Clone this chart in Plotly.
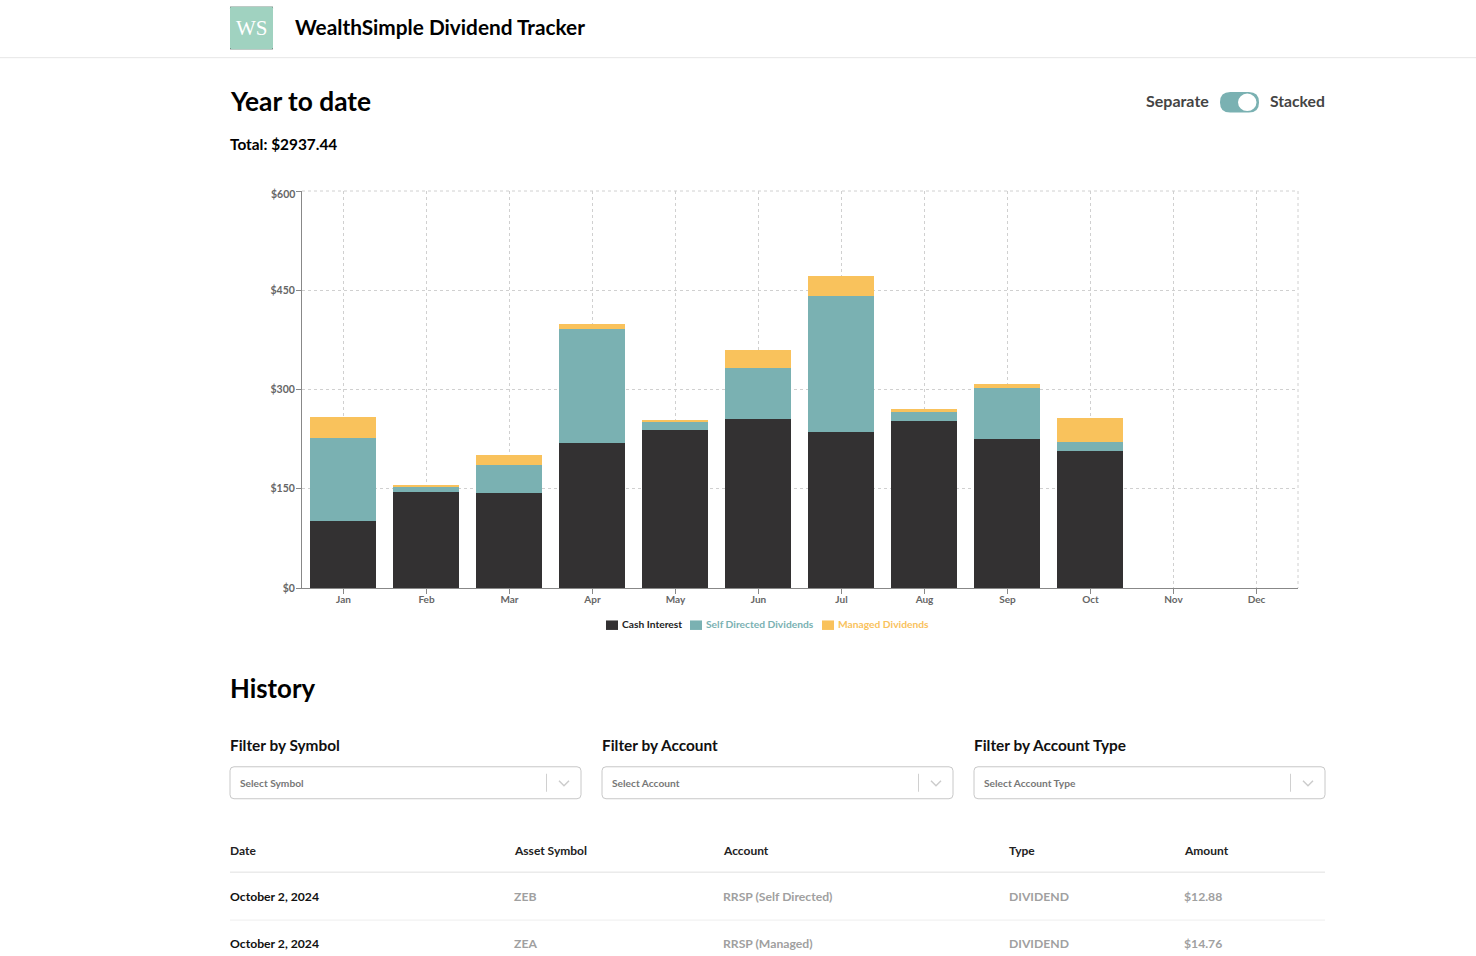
import plotly.graph_objects as go

months = ["Jan", "Feb", "Mar", "Apr", "May", "Jun", "Jul", "Aug", "Sep", "Oct", "Nov", "Dec"]
cash_interest = [101, 145, 143, 219, 238.5, 255, 235.5, 252, 225, 207, 0, 0]
self_directed = [125, 9, 43, 172, 12.5, 77, 205.5, 15, 77, 13, 0, 0]
managed = [32, 2, 15, 8, 2.5, 28, 30, 3, 7, 37, 0, 0]
series_names = ["Cash Interest", "Self Directed Dividends", "Managed Dividends"]
y_ticks = [0, 150, 300, 450, 600]
y_labels = ["$0", "$150", "$300", "$450", "$600"]

table_headers = ["Date", "Asset Symbol", "Account", "Type", "Amount"]
table_rows = [
    ["October 2, 2024", "ZEB", "RRSP (Self Directed)", "DIVIDEND", "$12.88"],
    ["October 2, 2024", "ZEA", "RRSP (Managed)", "DIVIDEND", "$14.76"],
]
filter_labels = ["Filter by Symbol", "Filter by Account", "Filter by Account Type"]
filter_placeholders = ["Select Symbol", "Select Account", "Select Account Type"]

DARK, TEAL, YELLOW = "#333132", "#7ab1b2", "#f9c25c"
FONT = "Lato"
W, H = 1476, 956
L, R, T, B = 302, 1298, 190.5, 588


def px(x):
    return (x - L) / (R - L)


def py(y):
    return (B - y) / (B - T)


fig = go.Figure()
for name, vals, col in zip(series_names, [cash_interest, self_directed, managed], [DARK, TEAL, YELLOW]):
    fig.add_trace(go.Bar(x=months, y=vals, name=name, width=66 / 83, offset=-34 / 83,
                         marker=dict(color=col, line=dict(width=0)), showlegend=False))

annotations = []
shapes = []


def text(x, y, s, size, color="#000", weight=400, anchor="left", family=FONT):
    annotations.append(dict(
        x=px(x), y=py(y), xref="paper", yref="paper", text=s, showarrow=False,
        xanchor=anchor, yanchor="middle", borderpad=0, borderwidth=0,
        font=dict(family=family, size=size, color=color, weight=weight),
    ))


def rect(x0, y0, x1, y1, fill=None, line=None, lw=1):
    shapes.append(dict(type="rect", xref="paper", yref="paper", x0=px(x0), x1=px(x1), y0=py(y0), y1=py(y1),
                       fillcolor=fill or "rgba(0,0,0,0)", line=dict(color=line or "rgba(0,0,0,0)", width=lw if line else 0),
                       layer="below"))


def seg(x0, y0, x1, y1, color, lw=1, dash="solid"):
    shapes.append(dict(type="line", xref="paper", yref="paper", x0=px(x0), x1=px(x1), y0=py(y0), y1=py(y1),
                       line=dict(color=color, width=lw, dash=dash), layer="below"))


def rounded(x0, y0, x1, y1, r, fill="rgba(0,0,0,0)", line=None, lw=1):
    a, b, c, d = px(x0), px(x1), py(y0), py(y1)
    rx, ry = r / (R - L), r / (B - T)
    p = (f"M {a+rx} {c} L {b-rx} {c} Q {b} {c} {b} {c-ry} L {b} {d+ry} Q {b} {d} {b-rx} {d} "
         f"L {a+rx} {d} Q {a} {d} {a} {d+ry} L {a} {c-ry} Q {a} {c} {a+rx} {c} Z")
    shapes.append(dict(type="path", xref="paper", yref="paper", path=p, fillcolor=fill,
                       line=dict(color=line or "rgba(0,0,0,0)", width=lw if line else 0), layer="below"))


# header
seg(0, 57, W, 57, "#e6e6e6", 1)
rect(230, 6, 273, 48.5, fill="#222222")
rounded(230, 6, 273, 48.5, 1.5, fill="#a0d2c0")
text(251.5, 27, "WS", 21, "#ffffff", 400, "center", "Liberation Serif")
text(295, 26, "WealthSimple Dividend Tracker", 20.8, "#000", 700)

# section heads
text(230, 100, "Year to date", 26.3, "#000", 700)
text(230, 143.5, "Total: $2937.44", 15.4, "#000", 700)
text(1145.5, 100, "Separate", 16, "#444", 700)
text(1270, 100, "Stacked", 15.7, "#444", 700)
rounded(1220, 91.5, 1259, 112, 10.2, fill=TEAL)
shapes.append(dict(type="circle", xref="paper", yref="paper", x0=px(1238), x1=px(1256.5), y0=py(93), y1=py(110.5),
                   fillcolor="#ffffff", line=dict(width=0), layer="below"))

# chart frame
seg(L, T, R, T, "#d0d0d0", 1, "3px,3px")
seg(R, T, R, B, "#d0d0d0", 1, "3px,3px")

# top y label sits just below its tick in the reference
text(295, 194, y_labels[-1], 10.5, "#666", 700, "right")

# legend
legend_x = [606, 690, 822]
legend_colors = [DARK, TEAL, YELLOW]
legend_text = ["#222222", TEAL, YELLOW]
for x0, name, col, tc in zip(legend_x, series_names, legend_colors, legend_text):
    rect(x0, 620.5, x0 + 12, 630, fill=col)
    text(x0 + 16, 624.5, name, 10.25, tc, 700)

# history
text(230, 688, "History", 25.8, "#000", 700)
for x0, lab, ph in zip([230, 602, 974], filter_labels, filter_placeholders):
    text(x0, 745, lab, 15.4, "#111", 700)
    rounded(x0, 767, x0 + 351, 799, 4, fill="#ffffff", line="#c8c8c8", lw=1)
    text(x0 + 10, 783.5, ph, 10.2, "#777", 700)
    seg(x0 + 316.5, 774, x0 + 316.5, 792, "#d0d0d0", 1)
    a, b, c = px(x0 + 329), px(x0 + 334), px(x0 + 339)
    shapes.append(dict(type="path", xref="paper", yref="paper", layer="below",
                       path=f"M {a} {py(781)} L {b} {py(786)} L {c} {py(781)}",
                       line=dict(color="#cccccc", width=1.5)))

cols = [230, 513.5, 722.5, 1008.5, 1183.5]
for x0, h in zip(cols, table_headers):
    text(x0, 851, h, 12, "#222", 700)
seg(230, 872.5, 1325, 872.5, "#e0e0e0", 1)
seg(230, 920.5, 1325, 920.5, "#eeeeee", 1)
for y0, row in zip([897, 944], table_rows):
    for i, (x0, v) in enumerate(zip(cols, row)):
        text(x0, y0, v, 12.2, "#111" if i == 0 else "#a0a0a0", 700)

fig.update_layout(
    width=W, height=H, autosize=False,
    margin=dict(l=L, r=W - R, t=T, b=H - B, pad=0),
    barmode="stack",
    plot_bgcolor="#ffffff", paper_bgcolor="#ffffff",
    font=dict(family=FONT, size=11, color="#666"),
    showlegend=False,
    xaxis=dict(showgrid=True, gridcolor="#d0d0d0", griddash="3px,3px", gridwidth=1,
               showline=True, linecolor="#888888", linewidth=1, ticks="outside", ticklen=5,
               tickcolor="#888888", ticklabelstandoff=-3, tickfont=dict(size=10, color="#666", weight=700),
               categoryorder="array", categoryarray=months, range=[-0.5, 11.5], zeroline=False, fixedrange=True),
    yaxis=dict(range=[0, 600], tickvals=y_ticks, ticktext=[*y_labels[:-1], ""], showgrid=True, gridcolor="#d0d0d0",
               griddash="3px,3px", gridwidth=1, showline=True, linecolor="#888888", linewidth=1,
               ticks="outside", ticklen=5, tickcolor="#888888", zeroline=False, ticklabelstandoff=-1,
               tickfont=dict(size=10.5, color="#666", weight=700), fixedrange=True),
    annotations=annotations, shapes=shapes,
)

fig.write_html("out.html", config={"displayModeBar": False},
               post_script="document.body.style.margin='0';document.body.style.background='#fff';")
